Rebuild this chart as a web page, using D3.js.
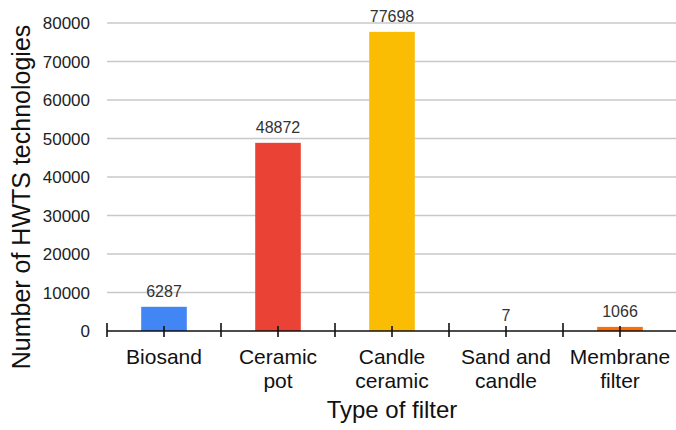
<!DOCTYPE html>
<html>
<head>
<meta charset="utf-8">
<script src="https://cdn.jsdelivr.net/npm/d3@7"></script>
<style>
  html, body { margin: 0; padding: 0; background: #fff; }
  svg { display: block; }
</style>
</head>
<body>
<svg id="chart" width="676" height="430"></svg>
<script>
// Household water treatment filters counted per type
const categories = ["Biosand", "Ceramic pot", "Candle ceramic", "Sand and candle", "Membrane filter"];
const labelLines = [["Biosand"], ["Ceramic", "pot"], ["Candle", "ceramic"], ["Sand and", "candle"], ["Membrane", "filter"]];
const counts = [6287, 48872, 77698, 7, 1066];
const barColors = ["#4285f4", "#ea4335", "#fbbc04", "#34a853", "#ff6d01"];
const yTicks = [0, 10000, 20000, 30000, 40000, 50000, 60000, 70000, 80000];

const svg = d3.select("#chart");
const plotLeft = 107, plotRight = 677, plotTop = 23, plotBottom = 331;

const x = d3.scaleBand().domain(categories).range([plotLeft, plotRight])
  .paddingInner(0.6).paddingOuter(0.3);
const step = x.step();
const y = d3.scaleLinear().domain([0, 80000]).range([plotBottom, plotTop]);

// horizontal gridlines
svg.append("g").selectAll("line").data(yTicks.filter(d => d > 0)).join("line")
  .attr("x1", plotLeft).attr("x2", plotRight)
  .attr("y1", d => y(d)).attr("y2", d => y(d))
  .attr("stroke", "#c8c8c8").attr("stroke-width", 1.5);

// y tick labels
svg.append("g").selectAll("text").data(yTicks).join("text")
  .attr("x", 90).attr("y", d => y(d)).attr("dy", "0.36em")
  .attr("text-anchor", "end")
  .attr("font-family", "Liberation Sans, Arial, sans-serif")
  .attr("font-size", 17).attr("fill", "#222")
  .text(d => d);

// bars
svg.append("g").selectAll("rect").data(categories).join("rect")
  .attr("x", d => x(d)).attr("width", x.bandwidth())
  .attr("y", (d, i) => y(counts[i]))
  .attr("height", (d, i) => y(0) - y(counts[i]))
  .attr("fill", (d, i) => barColors[i]);

// value labels
svg.append("g").selectAll("text").data(categories).join("text")
  .attr("x", d => x(d) + x.bandwidth() / 2)
  .attr("y", (d, i) => y(counts[i]) - 10)
  .attr("text-anchor", "middle")
  .attr("font-family", "Liberation Sans, Arial, sans-serif")
  .attr("font-size", 16).attr("fill", "#333")
  .text((d, i) => counts[i]);

// category axis line with boundary and centre ticks
const axis = svg.append("g").attr("stroke", "#111").attr("stroke-width", 1.6);
axis.append("line").attr("x1", plotLeft).attr("x2", plotRight)
  .attr("y1", y(0)).attr("y2", y(0));
const boundaries = d3.range(categories.length + 1).map(i => plotLeft + i * step);
axis.selectAll("line.b").data(boundaries).join("line").attr("class", "b")
  .attr("x1", d => d).attr("x2", d => d)
  .attr("y1", y(0) - 8).attr("y2", y(0) + 6);
axis.selectAll("line.c").data(categories).join("line").attr("class", "c")
  .attr("x1", d => x(d) + x.bandwidth() / 2).attr("x2", d => x(d) + x.bandwidth() / 2)
  .attr("y1", y(0) - 5).attr("y2", y(0) + 6);

// category labels
const cat = svg.append("g").selectAll("text").data(categories).join("text")
  .attr("x", d => x(d) + x.bandwidth() / 2)
  .attr("y", 364)
  .attr("text-anchor", "middle")
  .attr("font-family", "Liberation Sans, Arial, sans-serif")
  .attr("font-size", 21).attr("fill", "#111");
cat.selectAll("tspan").data((d, i) => labelLines[i]).join("tspan")
  .attr("x", function () { return this.parentNode.getAttribute("x"); })
  .attr("dy", (d, j) => j === 0 ? 0 : 24)
  .text(d => d);

// axis titles
svg.append("text")
  .attr("x", (plotLeft + plotRight) / 2).attr("y", 418)
  .attr("text-anchor", "middle")
  .attr("font-family", "Liberation Sans, Arial, sans-serif")
  .attr("font-size", 24).attr("fill", "#111")
  .text("Type of filter");

svg.append("text")
  .attr("transform", "translate(30,197) rotate(-90)")
  .attr("text-anchor", "middle")
  .attr("font-family", "Liberation Sans, Arial, sans-serif")
  .attr("font-size", 25).attr("fill", "#111")
  .text("Number of HWTS technologies");
</script>
</body>
</html>
